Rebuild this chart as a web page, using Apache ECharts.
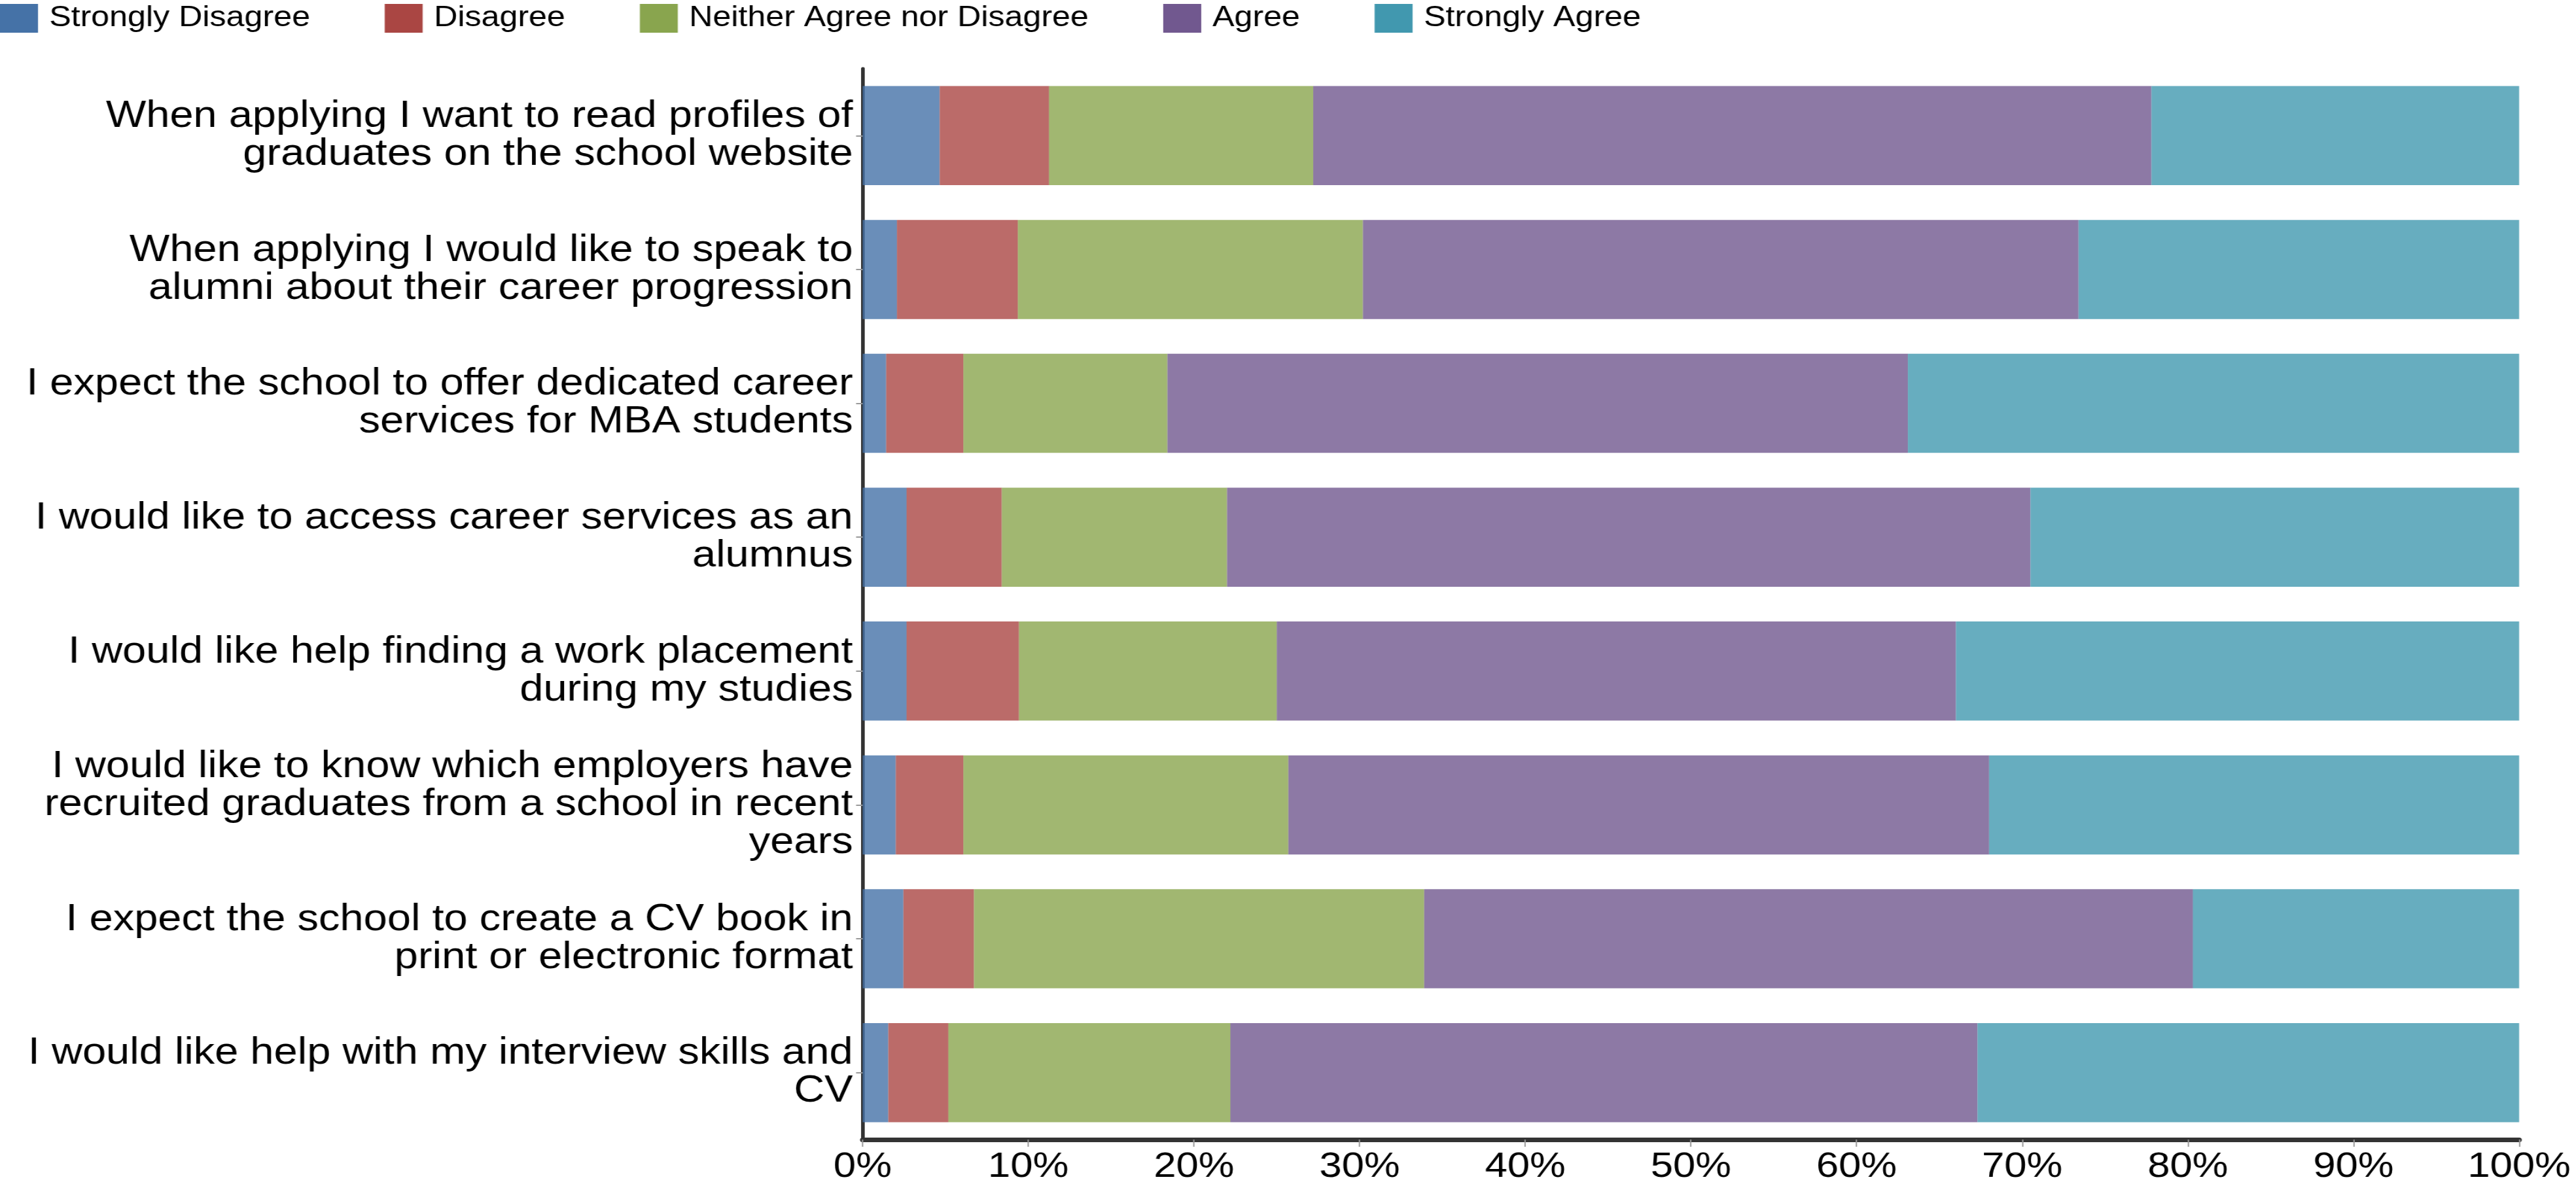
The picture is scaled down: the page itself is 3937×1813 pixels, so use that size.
<!DOCTYPE html>
<html>
<head>
<meta charset="utf-8">
<script src="https://cdn.jsdelivr.net/npm/echarts@6/dist/echarts.min.js"></script>
<style>
  html, body { margin: 0; padding: 0; background: #ffffff; }
  #wrap { width: 3937px; height: 1813px; overflow: hidden; position: relative; }
  #chart { height: 1813px; transform-origin: 0 0; }
</style>
</head>
<body>
<div id="wrap"><div id="chart"></div></div>
<script>
// ---- data ----
const categories = [
  "When applying I want to read profiles of\ngraduates on the school website",
  "When applying I would like to speak to\nalumni about their career progression",
  "I expect the school to offer dedicated career\nservices for MBA students",
  "I would like to access career services as an\nalumnus",
  "I would like help finding a work placement\nduring my studies",
  "I would like to know which employers have\nrecruited graduates from a school in recent\nyears",
  "I expect the school to create a CV book in\nprint or electronic format",
  "I would like help with my interview skills and\nCV"
];
const seriesNames = ["Strongly Disagree", "Disagree", "Neither Agree nor Disagree", "Agree", "Strongly Agree"];
const stronglyDisagree = [4.65, 2.07, 1.42, 2.65, 2.65, 2.0, 2.46, 1.55];
const disagree         = [6.6, 7.3, 4.66, 5.75, 6.79, 4.08, 4.26, 3.62];
const neither          = [15.95, 20.83, 12.32, 13.6, 15.56, 19.62, 27.18, 17.03];
const agree            = [50.6, 43.2, 44.7, 48.5, 41.0, 42.3, 46.4, 45.1];
const stronglyAgree    = [22.2, 26.6, 36.9, 29.5, 34.0, 32.0, 19.7, 32.7];
const xTicks = [0, 10, 20, 30, 40, 50, 60, 70, 80, 90, 100];

// ---- layout / style ----
const S = 1.14;               // horizontal stretch of the reference picture
const W = 3937 / S;
const colors = ["#4572A7", "#AA4643", "#89A54E", "#71588F", "#4198AF"];
const FONT = "Liberation Sans, Arial, sans-serif";

const el = document.getElementById('chart');
el.style.width = W + 'px';
el.style.transform = 'scaleX(' + S + ')';

const chart = echarts.init(el, null, { renderer: 'canvas', width: W, height: 1813 });
const values = [stronglyDisagree, disagree, neither, agree, stronglyAgree];

const option = {
  animation: false,
  backgroundColor: '#ffffff',
  color: colors,
  legend: {
    left: 0,
    top: 6,
    padding: 0,
    itemWidth: 58 / S,
    itemHeight: 44,
    itemGap: 100,
    icon: 'rect',
    itemStyle: { opacity: 1 },
    textStyle: { fontSize: 44, color: '#000000', fontFamily: FONT, padding: [0, 0, 0, 10] },
    data: seriesNames
  },
  grid: {
    left: 1318 / S,
    right: 88 / S,
    top: 105,
    bottom: 71,
    containLabel: false
  },
  xAxis: {
    type: 'value',
    min: xTicks[0],
    max: xTicks[xTicks.length - 1],
    interval: 10,
    splitLine: { show: false },
    axisLine: { show: true, lineStyle: { color: '#333333', width: 7 } },
    axisTick: { show: true, length: 11, lineStyle: { color: '#999999', width: 2 / S } },
    axisLabel: {
      margin: 15,
      fontSize: 54,
      lineHeight: 54,
      color: '#000000',
      fontFamily: FONT,
      formatter: '{value}%'
    }
  },
  yAxis: {
    type: 'category',
    inverse: true,
    data: categories,
    axisLine: { show: true, lineStyle: { color: '#333333', width: 5 } },
    axisTick: { show: true, alignWithLabel: true, length: 10 / S, lineStyle: { color: '#999999', width: 2 } },
    axisLabel: {
      margin: 13,
      fontSize: 57,
      lineHeight: 58,
      color: '#000000',
      fontFamily: FONT,
      align: 'right'
    }
  },
  series: seriesNames.map((name, i) => ({
    name: name,
    type: 'bar',
    stack: 'total',
    barCategoryGap: '26%',
    data: values[i],
    itemStyle: { color: colors[i], opacity: 0.8 },
    emphasis: { disabled: true }
  }))
};
chart.setOption(option);
</script>
</body>
</html>
